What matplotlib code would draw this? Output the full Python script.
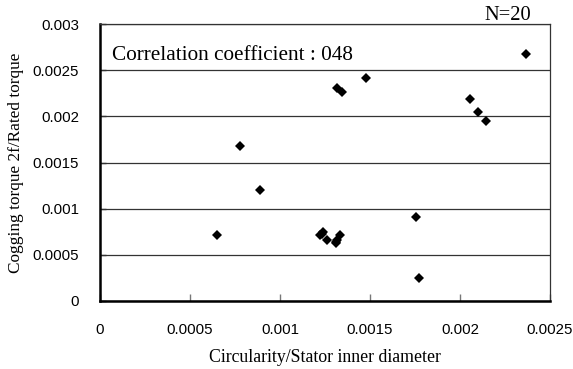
import matplotlib
matplotlib.use("Agg")
import matplotlib.pyplot as plt
from matplotlib.ticker import FixedLocator

circularity = [0.000648, 0.000776, 0.000891,
               0.001222, 0.001232, 0.001240, 0.001259, 0.001310, 0.001312, 0.001318, 0.001335,
               0.001315, 0.001343, 0.001476,
               0.001756, 0.001774,
               0.002057, 0.002100, 0.002143, 0.002369]
cogging = [0.000716, 0.001682, 0.001205,
           0.000712, 0.000728, 0.000745, 0.000655, 0.000622, 0.000640, 0.000660, 0.000718,
           0.002305, 0.002269, 0.002419,
           0.000913, 0.000242,
           0.002188, 0.002044, 0.001953, 0.002679]

x_ticks = [0, 0.0005, 0.001, 0.0015, 0.002, 0.0025]
x_tick_labels = ["0", "0.0005", "0.001", "0.0015", "0.002", "0.0025"]
y_ticks = [0, 0.0005, 0.001, 0.0015, 0.002, 0.0025, 0.003]
y_tick_labels = ["0", "0.0005", "0.001", "0.0015", "0.002", "0.0025", "0.003"]

serif = ["Liberation Serif", "DejaVu Serif"]
sans = ["Liberation Sans", "DejaVu Sans"]

fig = plt.figure(figsize=(5.73, 3.69), dpi=100)
ax = fig.add_axes([100/573, 1 - 300.7/369, 450/573, 276.4/369])

ax.set_xlim(0, 0.0025)
ax.set_ylim(0, 0.003)
ax.xaxis.set_major_locator(FixedLocator(x_ticks))
ax.yaxis.set_major_locator(FixedLocator(y_ticks))
ax.set_xticklabels(x_tick_labels, fontfamily=sans, fontsize=10.8)
ax.set_yticklabels(y_tick_labels, fontfamily=sans, fontsize=10.8)

ax.grid(axis="y", color="#333333", linewidth=0.9)
ax.set_axisbelow(True)

ax.tick_params(axis="x", direction="in", length=5, width=1, color="#777777", pad=16)
ax.tick_params(axis="y", direction="in", length=4, width=1, color="#333333", pad=15)

for s in ["left", "bottom"]:
    ax.spines[s].set_linewidth(1.8)
    ax.spines[s].set_color("black")
for s in ["top", "right"]:
    ax.spines[s].set_linewidth(0.9)
    ax.spines[s].set_color("#333333")

ax.plot(circularity, cogging, linestyle="none", marker="D", markersize=5.6,
        color="black", markeredgewidth=0)

ax.text(0.0000640, 0.00266, "Correlation coefficient : 048", fontfamily=serif,
        fontsize=15.3, va="center", ha="left")
fig.text(531/573, 1 - 15/369, "N=20", fontfamily=serif, fontsize=14.8,
         ha="right", va="center")

ax.set_xlabel("Circularity/Stator inner diameter", fontfamily=serif, fontsize=12.8, labelpad=9)
ax.set_ylabel("Cogging torque 2f/Rated torque", fontfamily=serif, fontsize=12.4, labelpad=6)

fig.savefig("out.png", dpi=100)
